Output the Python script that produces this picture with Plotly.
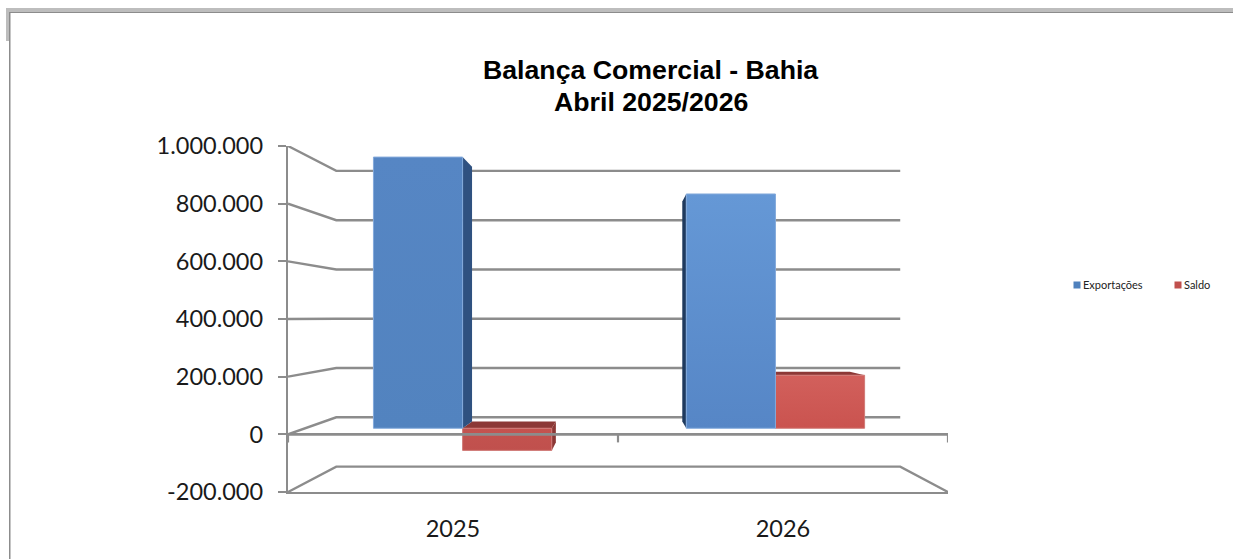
import plotly.graph_objects as go

# ---- chart values ----
categories = ["2025", "2026"]
exportacoes = [992000, 857000]
saldo = [-81000, 194000]
y_ticks = [-200000, 0, 200000, 400000, 600000, 800000, 1000000]
y_tick_labels = ["-200.000", "0", "200.000", "400.000", "600.000", "800.000", "1.000.000"]
series_names = ["Exportações", "Saldo"]
title_lines = ["Balança Comercial - Bahia", "Abril 2025/2026"]

# ---- style / layout ----
W, H = 1233, 559
L, R, T, B = 288, 948, 146, 492
GREY = "#8C8C8C"
XVP, YVP = 1.005, 406000   # vanishing point of the 3D look, in axis units
K_BACK = 0.8545            # wall depth
K_BAR_FRONT = 0.948
K_BAR_BACK = 0.891
BAR_W = 0.285
BAR_SHIFT = 0.503
TITLE_Y = [70, 102]

faces = {
    "blue": {"2025": ("#5686C4", "#5283BF"), "2026": ("#6598D6", "#5686C6"),
             "side": {"2025": "#2F5180", "2026": "#1F3A5E"}},
    "red": {"2025": ("#C4534F", "#C0504D"), "2026": ("#D2605C", "#CA534F"),
            "top": "#8C3836", "side": "#8C3836"},
}


def proj(x, v, k):
    return XVP + (x - XVP) * k, YVP + (v - YVP) * k


def px(x):
    return (x - L) / (R - L)


def py(y):
    return (B - y) / (B - T)


fig = go.Figure()


def line(points, width=2.4, color=GREY):
    xs, ys = zip(*points)
    fig.add_trace(go.Scatter(x=xs, y=ys, mode="lines", showlegend=False, hoverinfo="skip",
                             line=dict(color=color, width=width, simplify=False)))


def poly(points, color=None, gradient=None, edge=None):
    xs, ys = zip(*points)
    kw = dict(fillcolor=color) if color else dict(
        fillgradient=dict(type="vertical", colorscale=[[0, gradient[1]], [1, gradient[0]]]))
    fig.add_trace(go.Scatter(x=list(xs) + [xs[0]], y=list(ys) + [ys[0]], mode="lines", fill="toself",
                             showlegend=False, hoverinfo="skip",
                             line=dict(width=1 if edge else 0, color=edge or "rgba(0,0,0,0)"), **kw))


def bar(x0, x1, v, cat, style, edge):
    lo, hi = min(0, v), max(0, v)
    kf, kb = K_BAR_FRONT, K_BAR_BACK
    side = style["side"][cat] if isinstance(style["side"], dict) else style["side"]
    if hi < YVP:
        poly([proj(x0, hi, kf), proj(x1, hi, kf), proj(x1, hi, kb), proj(x0, hi, kb)],
             color=style.get("top", side))
    if x1 < XVP:
        poly([proj(x1, lo, kf), proj(x1, hi, kf), proj(x1, hi, kb), proj(x1, lo, kb)], color=side)
    if x0 > XVP:
        poly([proj(x0, lo, kf), proj(x0, hi, kf), proj(x0, hi, kb), proj(x0, lo, kb)], color=side)
    poly([proj(x0, lo, kf), proj(x1, lo, kf), proj(x1, hi, kf), proj(x0, hi, kf)],
         gradient=style[cat], edge=edge)


# back wall and side wall grid
n = len(categories)
for v in y_ticks:
    pts = [(0, v), proj(0, v, K_BACK), proj(n, v, K_BACK)]
    if v == y_ticks[0]:
        pts.append((n, v))
    line(pts)

# bars: red behind blue
for i, cat in enumerate(categories):
    c = i + BAR_SHIFT
    bar(c, c + BAR_W, saldo[i], cat, faces["red"], "#D07A77")
for i, cat in enumerate(categories):
    c = i + BAR_SHIFT
    bar(c - BAR_W, c, exportacoes[i], cat, faces["blue"], "#83A9DB")

# front floor edges
line([(0, 0), (n, 0)], width=2.6)
for i in range(n + 1):
    line([(i, 0), (i, -28000)], width=2.2)

# legend entries
for name, col in zip(series_names, ["#4F81BD", "#C0504D"]):
    fig.add_trace(go.Scatter(x=[None], y=[None], mode="markers", name=name,
                             marker=dict(symbol="square", size=7, color=col)))

# outer frame
frame = [
    (6, 8, W, 12, "#BDBDBD"),
    (6, 8, 9, 41, "#BDBDBD"),
    (9, 12, W, 13, "#8C8C8C"),
    (9, 12, 10.5, H, "#8C8C8C"),
]
shapes = [dict(type="rect", xref="paper", yref="paper", x0=px(a), x1=px(c), y0=py(b), y1=py(d),
               fillcolor=col, line=dict(width=0), layer="below") for a, b, c, d, col in frame]

fig.update_layout(
    width=W, height=H, autosize=False,
    margin=dict(l=L, r=W - R, t=T, b=H - B, pad=0, autoexpand=False),
    paper_bgcolor="white", plot_bgcolor="rgba(0,0,0,0)",
    shapes=shapes,
    font=dict(family="Lato", color="#1a1a1a"),
    annotations=[dict(text="<b>%s</b>" % t, xref="paper", yref="paper",
                      x=px(651), y=py(yy), xanchor="center", yanchor="middle", showarrow=False,
                      font=dict(family="Liberation Sans", size=26.7, color="black"))
                 for t, yy in zip(title_lines, TITLE_Y)],
    legend=dict(orientation="h", x=px(1043), y=py(285), xanchor="left", yanchor="middle",
                font=dict(family="Lato", size=11, color="#222222"), itemwidth=30,
                entrywidth=56, entrywidthmode="pixels", bgcolor="rgba(0,0,0,0)"),
    xaxis=dict(range=[0, n], tickvals=[i + 0.5 for i in range(n)], ticktext=categories,
               showgrid=False, zeroline=False, showline=True, linecolor=GREY, linewidth=2.4,
               ticks="outside", ticklen=15, tickcolor="rgba(0,0,0,0)",
               tickfont=dict(family="Lato", size=23.5, color="#1a1a1a")),
    yaxis=dict(range=[y_ticks[0], y_ticks[-1]], tickvals=y_ticks, ticktext=y_tick_labels,
               showgrid=False, zeroline=False, showline=True, linecolor=GREY, linewidth=2.4,
               ticks="outside", ticklen=8, tickwidth=2.2, tickcolor=GREY, ticklabelstandoff=10,
               tickfont=dict(family="Lato", size=23.5, color="#1a1a1a")),
)

post = """
document.body.style.margin='0';
document.querySelectorAll('.legendsymbols').forEach(function(g){g.setAttribute('transform','translate(14,0)');});
"""
fig.write_html("out.html", post_script=post, config={"displayModeBar": False})
